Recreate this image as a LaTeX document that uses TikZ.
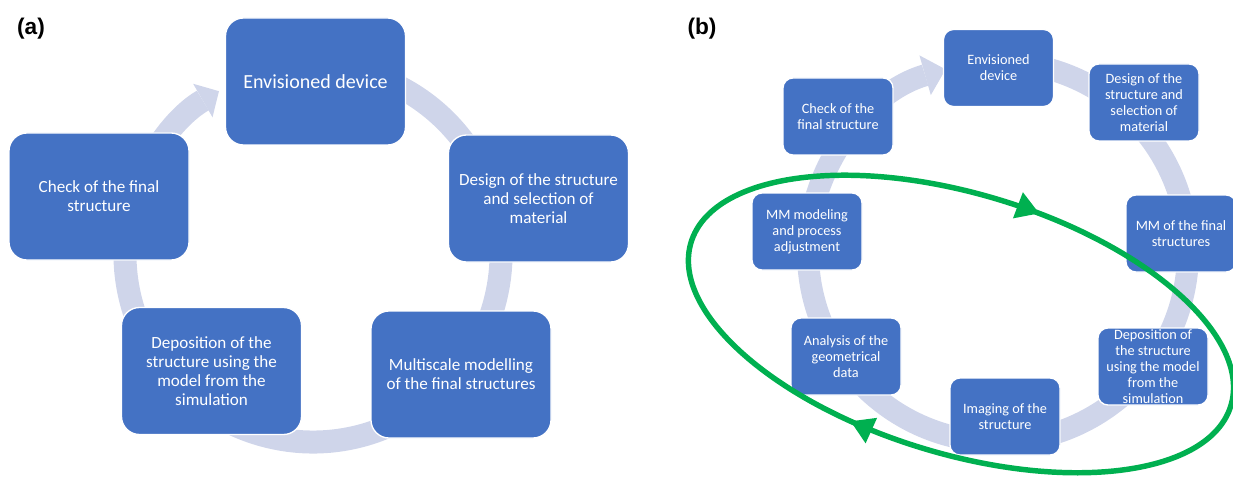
\documentclass[tikz,border=0pt]{standalone}
\usepackage{tikz}
\usepackage{xcolor}
\usepackage{fontspec}
\setmainfont{Carlito}
\newfontfamily\panelfont{Liberation Sans}
\usetikzlibrary{arrows.meta,decorations.markings}
\definecolor{boxblue}{RGB}{68,114,196}
\definecolor{ringblue}{RGB}{207,213,234}
\definecolor{loopgreen}{RGB}{0,176,80}

\begin{document}
\begin{tikzpicture}[x=0.75pt,y=0.75pt,yscale=-1,xscale=1,
  stagea/.style={draw=white, line width=1pt, fill=boxblue, rounded corners=13.5pt, minimum width=135pt, minimum height=95.25pt, align=center, text=white, inner sep=0.75pt, font=\fontsize{12.8}{14.25}\selectfont},
  stageb/.style={stagea, rounded corners=7.5pt, minimum width=82.5pt, minimum height=57.75pt, font=\fontsize{10.7}{12}\selectfont},
  ringa/.style={ringblue, line width=17.25pt, -{Triangle[width=29pt,length=14pt,line width=0pt]}},
  ringb/.style={ringblue, line width=16.5pt, -{Triangle[width=31pt,length=16pt,line width=0pt]}},
  loopline/.style={loopgreen, line width=4.1pt, postaction={decorate}, decoration={markings,
    mark=at position 0.308 with {\arrow[loopgreen]{Triangle[width=21pt,length=17pt,line width=0pt]}},
    mark=at position 0.782 with {\arrow[loopgreen]{Triangle[width=21pt,length=17pt,line width=0pt]}}}},
  panel/.style={font=\panelfont\bfseries\fontsize{17}{20}\selectfont, inner sep=0.75pt}
]
\useasboundingbox (0,0) rectangle (1233,478);

%Shape: Ring (a)
\coordinate (ca) at (313,254);
\draw[ringa] ([shift={(-75:188)}]ca) arc[start angle=-75, end angle=240, radius=188];
%Shape: Ring (b)
\coordinate (cb) at (998,252);
\draw[ringb] ([shift={(-80:190)}]cb) arc[start angle=-80, end angle=254, radius=190];

% Panel (a)
\node[stagea, font=\fontsize{15}{17}\selectfont] (enva) at (315.5,81.5) {Envisioned device};
\node[stagea] (designa) at (538.5,198.5) {Design of the structure\\and selection of\\material};
\node[stagea] (multia) at (461,374.5) {Multiscale modelling\\of the final structures};
\node[stagea] (depoa) at (211.5,371) {Deposition of the\\structure using the\\model from the\\simulation};
\node[stagea] (checka) at (99,196.5) {Check of the final\\structure};

% Panel (b)
\node[stageb] (envb) at (998.5,68) {Envisioned\\device};
\node[stageb] (designb) at (1144,102.5) {Design of the\\structure and\\selection of\\material};
\node[stageb] (mmfinalb) at (1181,233.5) {MM of the final\\structures};
\node[stageb] (depob) at (1153,366.5) {Deposition of\\the structure\\using the model\\from the\\simulation};
\node[stageb] (imagingb) at (1005,416.5) {Imaging of the\\structure};
\node[stageb] (analysisb) at (846,356.5) {Analysis of the\\geometrical\\data};
\node[stageb] (mmmodelb) at (807,231.5) {MM modeling\\and process\\adjustment};
\node[stageb] (checkb) at (838,116.5) {Check of the\\final structure};

%Shape: Ellipse round the inner loop
\coordinate (ce) at (961,324);
\draw[loopline, rotate around={16.8:(ce)}] (ce) ellipse [x radius=282, y radius=130];

% Text Node
\node[panel] (lbla) at (31,29) {(a)};
% Text Node
\node[panel] (lblb) at (702,29) {(b)};

\end{tikzpicture}
\end{document}
